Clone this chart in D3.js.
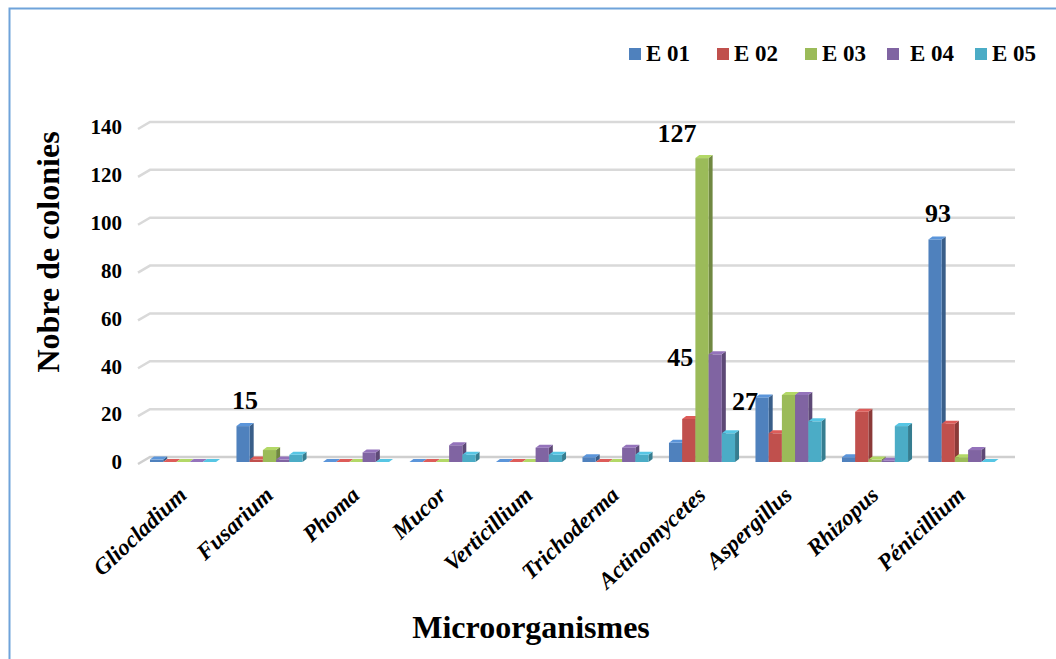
<!DOCTYPE html>
<html>
<head>
<meta charset="utf-8">
<script src="https://cdn.jsdelivr.net/npm/d3@7"></script>
<style>
  body { margin: 0; background: #fff; }
  svg text { font-family: "Liberation Serif", "Times New Roman", serif; font-weight: bold; }
</style>
</head>
<body>
<div id="chart"></div>
<script>
// categories and series
const categories = ["Gliocladium", "Fusarium", "Phoma", "Mucor", "Verticillium",
  "Trichoderma", "Actinomycetes", "Aspergillus", "Rhizopus", "Pénicillium"]
const series = ["E 01", "E 02", "E 03", "E 04", "E 05"]
const colors = ["#4F81BD", "#C0504D", "#9BBB59", "#8064A2", "#4BACC6"]

// values per series, same order as categories
const e01 = [1, 15, 0, 0, 0, 2, 8, 27, 2, 93]
const e02 = [0, 1, 0, 0, 0, 0, 18, 12, 21, 16]
const e03 = [0, 5, 0, 0, 0, 0, 127, 28, 1, 2]
const e04 = [0, 1, 4, 7, 6, 6, 45, 28, 0.5, 5]
const e05 = [0, 3, 0, 3, 3, 3, 12, 17, 15, 0]
const values = [e01, e02, e03, e04, e05]

const yTicks = [0, 20, 40, 60, 80, 100, 120, 140]

// labelled bars: [category index, series index]
const labelled = [[1, 0], [6, 2], [6, 3], [7, 0], [9, 0]]

const width = 1056, height = 659
const depthX = 4, depthY = 3  // fake 3d depth

const svg = d3.select("#chart").append("svg")
    .attr("width", width)
    .attr("height", height)

// frame
svg.append("rect")
    .attr("x", 9.5).attr("y", 8.5)
    .attr("width", 1100).attr("height", 700)
    .attr("fill", "none")
    .attr("stroke", "#6FA3DA")
    .attr("stroke-width", 2)

const x0 = d3.scaleBand()
    .domain(categories)
    .range([141.75, 1006.75])
    .paddingInner(0.19)
    .paddingOuter(0.095)

const x1 = d3.scaleBand()
    .domain(d3.range(series.length))
    .range([0, x0.bandwidth() - depthX])

const y = d3.scaleLinear()
    .domain([0, 140])
    .range([462, 127])

// gridlines (back wall)
const grid = svg.append("g")
grid.selectAll("path")
  .data(yTicks)
  .join("path")
    .attr("fill", "none")
    .attr("stroke", d => d === 0 ? "#cfcfcf" : "#d9d9d9")
    .attr("stroke-width", 2.5)
    .attr("d", d => `M138,${y(d) + 2}L${150},${y(d) - depthY - 2}L1015,${y(d) - depthY - 2}`)

// y axis labels
const yAxis = d3.axisLeft(y).tickValues(yTicks).tickSize(0).tickPadding(0)
svg.append("g")
    .attr("transform", "translate(122,0)")
    .call(yAxis)
    .call(g => g.select(".domain").remove())
    .call(g => g.selectAll("text")
        .style("font-size", "21px")
        .style("font-family", "'Liberation Serif', serif")
        .style("font-weight", "bold")
        .attr("fill", "#000"))

// bars
const bars = []
categories.forEach((c, ci) => {
  series.forEach((s, si) => {
    bars.push({ ci, si, c, v: values[si][ci] })
  })
})

const barG = svg.append("g")
bars.forEach(b => {
  const xl = x0(b.c) + x1(b.si)
  const w = x1.bandwidth()
  const top = y(b.v)
  const base = y(0)
  const col = d3.color(colors[b.si])
  const g = barG.append("g")
  // side
  g.append("path")
      .attr("fill", col.darker(0.9))
      .attr("d", `M${xl + w},${top}L${xl + w + depthX},${top - depthY}L${xl + w + depthX},${base - depthY}L${xl + w},${base}Z`)
  // front
  g.append("rect")
      .attr("x", xl).attr("y", top)
      .attr("width", w).attr("height", base - top)
      .attr("fill", col)
  // top
  g.append("path")
      .attr("fill", col.brighter(0.4))
      .attr("d", `M${xl},${top}L${xl + depthX},${top - depthY}L${xl + w + depthX},${top - depthY}L${xl + w},${top}Z`)
})

// value labels
const nudge = [[2, -17], [-25, -16], [-35, 12], [-17, 13], [3, -17]]
svg.append("g").selectAll("text")
  .data(labelled)
  .join("text")
    .attr("x", (d, i) => x0(categories[d[0]]) + x1(d[1]) + x1.bandwidth() / 2 + nudge[i][0])
    .attr("y", (d, i) => y(values[d[1]][d[0]]) + nudge[i][1])
    .attr("text-anchor", "middle")
    .style("font-size", "26px")
    .text(d => values[d[1]][d[0]])

// category labels
svg.append("g").selectAll("text")
  .data(categories)
  .join("text")
    .attr("transform", d => `translate(${x0(d) + x0.bandwidth() / 2 - 8},${485}) rotate(-43)`)
    .attr("text-anchor", "end")
    .style("font-size", "23px")
    .style("font-style", "italic")
    .attr("dy", "0.7em")
    .text(d => d)

// axis titles
svg.append("text")
    .attr("transform", "translate(59,252) rotate(-90)")
    .attr("text-anchor", "middle")
    .style("font-size", "32px")
    .text("Nobre de colonies")

svg.append("text")
    .attr("x", 531).attr("y", 638)
    .attr("text-anchor", "middle")
    .style("font-size", "32px")
    .text("Microorganismes")

// legend
const legendX = [629, 717, 805, 887, 975]
const legend = svg.append("g").selectAll("g")
  .data(series)
  .join("g")
    .attr("transform", (d, i) => `translate(${legendX[i]},48)`)
legend.append("rect")
    .attr("width", 12).attr("height", 12)
    .attr("fill", (d, i) => colors[i])
legend.append("text")
    .attr("x", (d, i) => i === 3 ? 23 : 17)
    .attr("y", 13)
    .style("font-size", "23px")
    .text(d => d)
</script>
</body>
</html>
